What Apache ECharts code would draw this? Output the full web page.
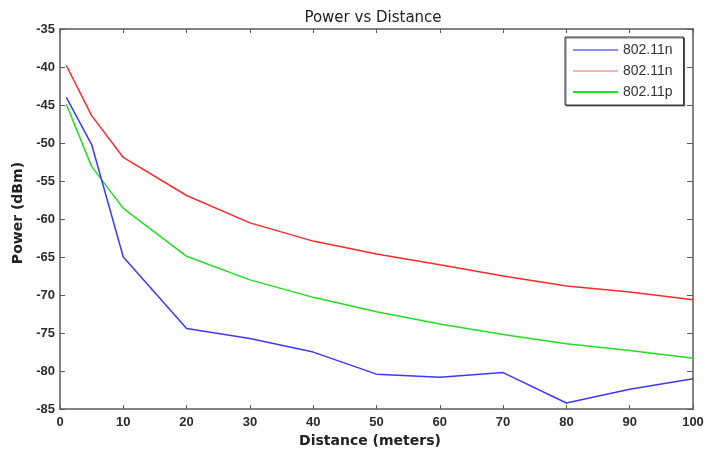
<!DOCTYPE html>
<html>
<head>
<meta charset="utf-8">
<script src="https://cdn.jsdelivr.net/npm/echarts@6/dist/echarts.min.js"></script>
<style>
  html, body { margin: 0; padding: 0; background: #fff; }
  #chart { width: 721px; height: 453px; }
</style>
</head>
<body>
<div id="chart"></div>
<script>
// Measurement distances (meters)
const distances = [1, 5, 10, 20, 30, 40, 50, 60, 70, 80, 90, 100];

// Received power (dBm) for each link
const powerBlueN = [-44, -50.2, -65, -74.4, -75.7, -77.5, -80.4, -80.8, -80.2, -84.2, -82.4, -81];
const powerRedN = [-39.8, -46.4, -51.9, -56.9, -60.5, -62.9, -64.6, -66.0, -67.5, -68.8, -69.6, -70.6];
const powerGreenP = [-44.9, -53.1, -58.6, -64.9, -68.0, -70.3, -72.2, -73.8, -75.2, -76.4, -77.3, -78.3];

const legendLabels = ['802.11n', '802.11n', '802.11p'];
const seriesKeys = ['blueN', 'redN', 'greenP'];

const xTicks = { min: 0, max: 100, step: 10 };
const yTicks = { min: -85, max: -35, step: 5 };

const lineColors = ['#3a3aff', '#ff2a2a', '#22dd22'];
const legendColors = ['#8c8cff', '#ffb4b4', '#22e022'];

const toPairs = ys => distances.map((d, i) => [d, ys[i]]);
const seriesValues = [powerBlueN, powerRedN, powerGreenP];

const axisColor = '#5a5a5a';
const labelStyle = {
  color: '#2b2b38',
  fontFamily: 'Liberation Sans',
  fontWeight: 'bold',
  fontSize: 13
};

const chart = echarts.init(document.getElementById('chart'), null, { renderer: 'canvas' });

chart.setOption({
  animation: false,
  backgroundColor: '#ffffff',
  title: {
    text: 'Power vs Distance',
    left: 368,
    top: 6,
    textAlign: 'center',
    textStyle: {
      fontFamily: 'DejaVu Sans',
      fontWeight: 'normal',
      fontSize: 15,
      color: '#222'
    }
  },
  grid: { left: 60, right: 28, top: 29, bottom: 40, containLabel: false },
  legend: {
    orient: 'vertical',
    left: 565,
    top: 37,
    padding: [6, 11, 6, 8],
    itemGap: 7,
    itemWidth: 45,
    itemHeight: 2,
    icon: 'rect',
    borderColor: '#333',
    borderWidth: 1,
    backgroundColor: '#fff',
    shadowColor: 'rgba(0,0,0,0.55)',
    shadowOffsetX: 1,
    shadowOffsetY: 1,
    data: seriesKeys.map((k, i) => ({ name: k, itemStyle: { color: legendColors[i] } })),
    formatter: name => legendLabels[seriesKeys.indexOf(name)],
    textStyle: {
      fontFamily: 'Liberation Sans',
      fontSize: 14,
      color: '#333',
      lineHeight: 14,
      padding: [0, 0, 0, 0]
    }
  },
  xAxis: [
    {
      type: 'value',
      position: 'bottom',
      min: xTicks.min,
      max: xTicks.max,
      interval: xTicks.step,
      name: 'Distance (meters)',
      nameLocation: 'middle',
      nameGap: 21,
      nameTextStyle: {
        fontFamily: 'DejaVu Sans',
        fontWeight: 'bold',
        fontSize: 14,
        color: '#222',
        padding: [0, 13, 0, 0]
      },
      axisLine: { show: true, onZero: false, lineStyle: { color: axisColor, width: 1.5 } },
      axisTick: { show: true, inside: true, length: 4, lineStyle: { color: axisColor } },
      axisLabel: Object.assign({ margin: 7 }, labelStyle),
      splitLine: { show: false }
    },
    {
      type: 'value',
      position: 'top',
      min: xTicks.min,
      max: xTicks.max,
      interval: xTicks.step,
      axisLine: { show: true, onZero: false, lineStyle: { color: axisColor, width: 1.5 } },
      axisTick: { show: true, inside: true, length: 4, lineStyle: { color: axisColor } },
      axisLabel: { show: false },
      splitLine: { show: false }
    }
  ],
  yAxis: [
    {
      type: 'value',
      position: 'left',
      min: yTicks.min,
      max: yTicks.max,
      interval: yTicks.step,
      name: 'Power (dBm)',
      nameLocation: 'middle',
      nameGap: 30,
      nameTextStyle: {
        fontFamily: 'DejaVu Sans',
        fontWeight: 'bold',
        fontSize: 14,
        color: '#222',
        padding: [0, 0, 0, 12]
      },
      axisLine: { show: true, onZero: false, lineStyle: { color: axisColor, width: 1.5 } },
      axisTick: { show: true, inside: true, length: 5, lineStyle: { color: axisColor } },
      axisLabel: Object.assign({ margin: 5 }, labelStyle),
      splitLine: { show: false }
    },
    {
      type: 'value',
      position: 'right',
      min: yTicks.min,
      max: yTicks.max,
      interval: yTicks.step,
      axisLine: { show: true, onZero: false, lineStyle: { color: axisColor, width: 1.5 } },
      axisTick: { show: true, inside: true, length: 6, lineStyle: { color: axisColor } },
      axisLabel: { show: false },
      splitLine: { show: false }
    }
  ],
  series: seriesKeys.map((k, i) => ({
    name: k,
    type: 'line',
    xAxisIndex: 0,
    yAxisIndex: 0,
    data: toPairs(seriesValues[i]),
    showSymbol: false,
    symbol: 'none',
    lineStyle: { color: lineColors[i], width: 1.5 },
    itemStyle: { color: lineColors[i] },
    z: 3 - i
  }))
});
</script>
</body>
</html>
